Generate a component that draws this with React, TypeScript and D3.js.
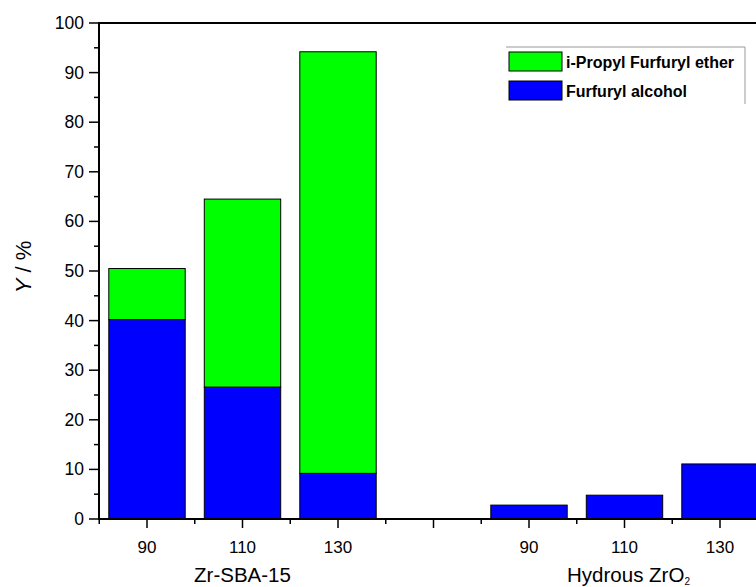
import React from 'react';
import * as d3 from 'd3';

// slots along the x axis; slot 3 is the empty gap between the two catalysts
const temperatures = ['90', '110', '130', '', '90', '110', '130'];
const furfurylAlcohol = [40.2, 26.6, 9.2, 0, 2.8, 4.8, 11.1];
const propylEther = [10.3, 37.9, 85.0, 0, 0, 0, 0];
const yTicks = [0, 10, 20, 30, 40, 50, 60, 70, 80, 90, 100];
const yMinor = [5, 15, 25, 35, 45, 55, 65, 75, 85, 95];
const groups = [
  { name: 'Zr-SBA-15', at: 1 },
  { name: 'Hydrous ZrO', sub: '2', at: 5 },
];
const legendItems = [
  { label: 'i-Propyl Furfuryl ether', color: '#00ff00' },
  { label: 'Furfuryl alcohol', color: '#0000ff' },
];

const W = 756;
const H = 587;
const font = 'Arial, "Liberation Sans", sans-serif';

export default function App() {
  const x = d3.scaleLinear().domain([-0.5, 6.5]).range([99.25, 767.75]);
  const y = d3.scaleLinear().domain([0, 100]).range([519, 23]);
  const slot = x(1) - x(0);
  const barW = slot * 0.8;

  const stacked = d3.stack<any>().keys(['alcohol', 'ether'])(
    temperatures.map((t, i) => ({ alcohol: furfurylAlcohol[i], ether: propylEther[i] }))
  );
  const colors = { alcohol: '#0000ff', ether: '#00ff00' };

  const minorX = d3.range(-0.5, 7, 1);

  return (
    <svg width={W} height={H} style={{ position: 'absolute', left: 0, top: 0, background: '#fff' }}
      fontFamily={font}>
      {/* bars */}
      {stacked.map((layer) => (
        <g key={layer.key} fill={(colors as any)[layer.key]} stroke="#000" strokeWidth={1}>
          {layer.map((d, i) =>
            d[1] - d[0] > 0 ? (
              <rect key={i} x={x(i) - barW / 2} y={y(d[1])} width={barW} height={y(d[0]) - y(d[1])} />
            ) : null
          )}
        </g>
      ))}

      {/* frame */}
      <g stroke="#000" strokeWidth={2} fill="none">
        <line x1={99} x2={W + 20} y1={y(0)} y2={y(0)} />
        <line x1={99} x2={W + 20} y1={y(100)} y2={y(100)} />
        <line x1={99} x2={99} y1={y(100) - 1} y2={y(0) + 1} />
      </g>

      {/* y ticks */}
      <g stroke="#000" strokeWidth={1.5}>
        {yTicks.map((t) => <line key={t} x1={89} x2={99} y1={y(t)} y2={y(t)} />)}
        {yMinor.map((t) => <line key={t} x1={94} x2={99} y1={y(t)} y2={y(t)} />)}
      </g>
      <g fontSize={17.5} textAnchor="end" fill="#000">
        {yTicks.map((t) => (
          <text key={t} x={84} y={y(t) + 6}>{t}</text>
        ))}
      </g>
      <text transform="translate(31,267) rotate(-90)" textAnchor="middle" fontSize={22} fill="#000">
        <tspan fontStyle="italic">Y</tspan> / %
      </text>

      {/* x ticks */}
      <g stroke="#000" strokeWidth={1.5}>
        {temperatures.map((t, i) => <line key={i} x1={x(i)} x2={x(i)} y1={y(0)} y2={y(0) + 9} />)}
        {minorX.map((v) => <line key={v} x1={x(v)} x2={x(v)} y1={y(0)} y2={y(0) + 5} />)}
      </g>
      <g fontSize={17} textAnchor="middle" fill="#000">
        {temperatures.map((t, i) => (
          <text key={i} x={x(i)} y={553}>{t}</text>
        ))}
      </g>
      <g fontSize={20.5} textAnchor="middle" fill="#000">
        {groups.map((g) => (
          <text key={g.name} x={x(g.at) + (g.sub ? 4 : 0)} y={582}>
            {g.name}
            {g.sub ? <tspan fontSize={10} dy={3}>{g.sub}</tspan> : null}
          </text>
        ))}
      </g>

      {/* legend */}
      <g>
        <line x1={506} x2={745} y1={47} y2={47} stroke="#999" strokeWidth={1} />
        <line x1={745} x2={745} y1={47} y2={104} stroke="#999" strokeWidth={1} />
        {legendItems.map((it, i) => (
          <g key={it.label} transform={`translate(509,${52 + i * 29})`}>
            <rect width={53} height={19} fill={it.color} stroke="#000" strokeWidth={1} />
            <text x={57} y={15.5} fontSize={16} fontWeight="bold" fill="#000">{it.label}</text>
          </g>
        ))}
      </g>
    </svg>
  );
}
